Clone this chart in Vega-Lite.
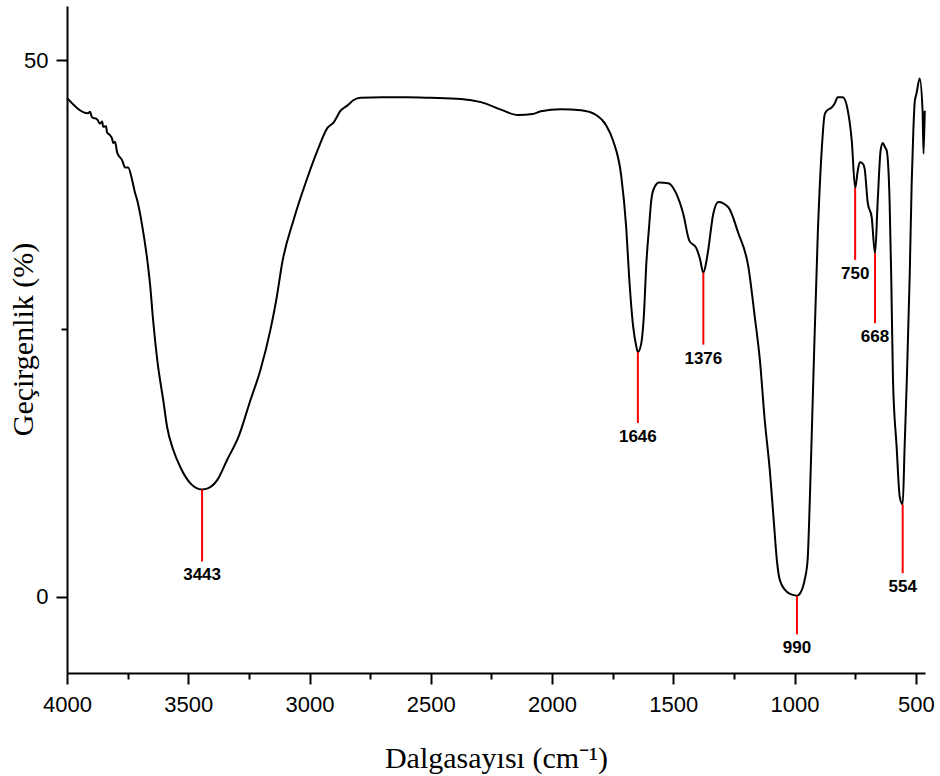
{
  "$schema": "https://vega.github.io/schema/vega-lite/v6.json",
  "autosize": {"type": "none"},
  "padding": {"left": 67, "top": 6, "right": 15, "bottom": 103},
  "width": 858,
  "height": 667,
  "background": "white",
  "config": {"view": {"stroke": null}},
  "datasets": {
    "spectrum": [
      {"wavenumber": 4000, "transmittance": 46.5},
      {"wavenumber": 3913, "transmittance": 45.07},
      {"wavenumber": 3905, "transmittance": 45.2},
      {"wavenumber": 3897, "transmittance": 44.7},
      {"wavenumber": 3876, "transmittance": 44.5},
      {"wavenumber": 3864, "transmittance": 44.1},
      {"wavenumber": 3855, "transmittance": 44.3},
      {"wavenumber": 3851, "transmittance": 43.8},
      {"wavenumber": 3839, "transmittance": 43.85},
      {"wavenumber": 3835, "transmittance": 43.3},
      {"wavenumber": 3822, "transmittance": 43.0},
      {"wavenumber": 3814, "transmittance": 42.7},
      {"wavenumber": 3810, "transmittance": 42.3},
      {"wavenumber": 3802, "transmittance": 42.4},
      {"wavenumber": 3793, "transmittance": 41.4},
      {"wavenumber": 3773, "transmittance": 40.7},
      {"wavenumber": 3760, "transmittance": 40.0},
      {"wavenumber": 3748, "transmittance": 40.0},
      {"wavenumber": 3731, "transmittance": 38.8},
      {"wavenumber": 3719, "transmittance": 37.6},
      {"wavenumber": 3711, "transmittance": 37.0},
      {"wavenumber": 3690, "transmittance": 34.6},
      {"wavenumber": 3669, "transmittance": 31.4},
      {"wavenumber": 3657, "transmittance": 29.0},
      {"wavenumber": 3645, "transmittance": 25.8},
      {"wavenumber": 3628, "transmittance": 22.1},
      {"wavenumber": 3603, "transmittance": 18.3},
      {"wavenumber": 3587, "transmittance": 15.8},
      {"wavenumber": 3562, "transmittance": 13.7},
      {"wavenumber": 3533, "transmittance": 12.1},
      {"wavenumber": 3492, "transmittance": 10.6},
      {"wavenumber": 3443, "transmittance": 10.0},
      {"wavenumber": 3420, "transmittance": 10.1},
      {"wavenumber": 3380, "transmittance": 10.9},
      {"wavenumber": 3339, "transmittance": 12.8},
      {"wavenumber": 3293, "transmittance": 14.9},
      {"wavenumber": 3244, "transmittance": 18.3},
      {"wavenumber": 3203, "transmittance": 21.1},
      {"wavenumber": 3161, "transmittance": 24.9},
      {"wavenumber": 3136, "transmittance": 27.8},
      {"wavenumber": 3112, "transmittance": 31.2},
      {"wavenumber": 3066, "transmittance": 35.1},
      {"wavenumber": 3008, "transmittance": 39.1},
      {"wavenumber": 2967, "transmittance": 41.6},
      {"wavenumber": 2926, "transmittance": 43.7},
      {"wavenumber": 2901, "transmittance": 44.2},
      {"wavenumber": 2872, "transmittance": 45.3},
      {"wavenumber": 2843, "transmittance": 45.8},
      {"wavenumber": 2818, "transmittance": 46.3},
      {"wavenumber": 2789, "transmittance": 46.5},
      {"wavenumber": 2700, "transmittance": 46.55},
      {"wavenumber": 2600, "transmittance": 46.55},
      {"wavenumber": 2500, "transmittance": 46.5},
      {"wavenumber": 2376, "transmittance": 46.4},
      {"wavenumber": 2293, "transmittance": 46.1},
      {"wavenumber": 2211, "transmittance": 45.4},
      {"wavenumber": 2141, "transmittance": 44.9},
      {"wavenumber": 2080, "transmittance": 45.0},
      {"wavenumber": 2046, "transmittance": 45.25},
      {"wavenumber": 1963, "transmittance": 45.44},
      {"wavenumber": 1880, "transmittance": 45.34},
      {"wavenumber": 1818, "transmittance": 44.9},
      {"wavenumber": 1777, "transmittance": 43.95},
      {"wavenumber": 1748, "transmittance": 42.5},
      {"wavenumber": 1715, "transmittance": 39.3},
      {"wavenumber": 1694, "transmittance": 34.4},
      {"wavenumber": 1682, "transmittance": 29.8},
      {"wavenumber": 1665, "transmittance": 25.1},
      {"wavenumber": 1653, "transmittance": 23.4},
      {"wavenumber": 1646, "transmittance": 22.8},
      {"wavenumber": 1633, "transmittance": 23.5},
      {"wavenumber": 1620, "transmittance": 26.7},
      {"wavenumber": 1612, "transmittance": 30.7},
      {"wavenumber": 1600, "transmittance": 34.4},
      {"wavenumber": 1591, "transmittance": 36.9},
      {"wavenumber": 1579, "transmittance": 38.1},
      {"wavenumber": 1558, "transmittance": 38.6},
      {"wavenumber": 1521, "transmittance": 38.55},
      {"wavenumber": 1488, "transmittance": 37.6},
      {"wavenumber": 1459, "transmittance": 35.7},
      {"wavenumber": 1434, "transmittance": 33.2},
      {"wavenumber": 1405, "transmittance": 32.5},
      {"wavenumber": 1390, "transmittance": 31.5},
      {"wavenumber": 1376, "transmittance": 30.2},
      {"wavenumber": 1364, "transmittance": 31.2},
      {"wavenumber": 1356, "transmittance": 32.3},
      {"wavenumber": 1335, "transmittance": 35.7},
      {"wavenumber": 1314, "transmittance": 36.8},
      {"wavenumber": 1273, "transmittance": 36.3},
      {"wavenumber": 1232, "transmittance": 33.9},
      {"wavenumber": 1190, "transmittance": 30.7},
      {"wavenumber": 1164, "transmittance": 26.1},
      {"wavenumber": 1143, "transmittance": 22.1},
      {"wavenumber": 1123, "transmittance": 16.5},
      {"wavenumber": 1102, "transmittance": 11.8},
      {"wavenumber": 1086, "transmittance": 7.2},
      {"wavenumber": 1073, "transmittance": 3.45},
      {"wavenumber": 1061, "transmittance": 1.6},
      {"wavenumber": 1032, "transmittance": 0.47},
      {"wavenumber": 1010, "transmittance": 0.2},
      {"wavenumber": 990, "transmittance": 0.1},
      {"wavenumber": 975, "transmittance": 0.4},
      {"wavenumber": 958, "transmittance": 1.6},
      {"wavenumber": 946, "transmittance": 3.45},
      {"wavenumber": 937, "transmittance": 9.0},
      {"wavenumber": 925, "transmittance": 18.3},
      {"wavenumber": 904, "transmittance": 33.9},
      {"wavenumber": 888, "transmittance": 41.6},
      {"wavenumber": 876, "transmittance": 44.9},
      {"wavenumber": 867, "transmittance": 45.3},
      {"wavenumber": 847, "transmittance": 45.6},
      {"wavenumber": 834, "transmittance": 46.0},
      {"wavenumber": 822, "transmittance": 46.55},
      {"wavenumber": 801, "transmittance": 46.55},
      {"wavenumber": 781, "transmittance": 45.4},
      {"wavenumber": 768, "transmittance": 43.4},
      {"wavenumber": 764, "transmittance": 42.5},
      {"wavenumber": 750, "transmittance": 38.1},
      {"wavenumber": 740, "transmittance": 39.6},
      {"wavenumber": 731, "transmittance": 40.5},
      {"wavenumber": 720, "transmittance": 40.4},
      {"wavenumber": 711, "transmittance": 39.9},
      {"wavenumber": 698, "transmittance": 36.7},
      {"wavenumber": 682, "transmittance": 35.4},
      {"wavenumber": 668, "transmittance": 32.0},
      {"wavenumber": 657, "transmittance": 36.9},
      {"wavenumber": 645, "transmittance": 41.6},
      {"wavenumber": 636, "transmittance": 42.3},
      {"wavenumber": 627, "transmittance": 41.9},
      {"wavenumber": 620, "transmittance": 41.6},
      {"wavenumber": 608, "transmittance": 36.9},
      {"wavenumber": 601, "transmittance": 29.5},
      {"wavenumber": 594, "transmittance": 20.2},
      {"wavenumber": 579, "transmittance": 14.0},
      {"wavenumber": 566, "transmittance": 9.3},
      {"wavenumber": 554, "transmittance": 8.6},
      {"wavenumber": 546, "transmittance": 14.0},
      {"wavenumber": 537, "transmittance": 20.2},
      {"wavenumber": 525, "transmittance": 30.0},
      {"wavenumber": 517, "transmittance": 38.5},
      {"wavenumber": 510, "transmittance": 43.5},
      {"wavenumber": 504, "transmittance": 46.2},
      {"wavenumber": 497, "transmittance": 46.9},
      {"wavenumber": 484, "transmittance": 48.3},
      {"wavenumber": 472, "transmittance": 45.3},
      {"wavenumber": 468, "transmittance": 41.3},
      {"wavenumber": 463, "transmittance": 45.3}
    ],
    "peaks": [
      {"wavenumber": 3443, "peak": 10.0, "end": 3.3, "label": "3443"},
      {"wavenumber": 1646, "peak": 22.8, "end": 16.2, "label": "1646"},
      {"wavenumber": 1376, "peak": 30.2, "end": 23.5, "label": "1376"},
      {"wavenumber": 990, "peak": 0.1, "end": -3.5, "label": "990"},
      {"wavenumber": 750, "peak": 38.1, "end": 31.4, "label": "750"},
      {"wavenumber": 668, "peak": 32.0, "end": 25.5, "label": "668"},
      {"wavenumber": 554, "peak": 8.6, "end": 2.2, "label": "554"}
    ]
  },
  "layer": [
    {
      "data": {"name": "spectrum"},
      "mark": {"type": "line", "color": "black", "strokeWidth": 2, "interpolate": "monotone"},
      "encoding": {
        "x": {
          "field": "wavenumber",
          "type": "quantitative",
          "scale": {"domain": [462, 4000], "reverse": true, "nice": false, "zero": false},
          "axis": {
            "title": "Dalgasayısı (cm⁻¹)",
            "values": [4000, 3750, 3500, 3250, 3000, 2750, 2500, 2250, 2000, 1750, 1500, 1250, 1000, 750, 500],
            "labelExpr": "datum.value % 500 == 0 ? format(datum.value, 'd') : ''",
            "labelOverlap": false,
            "labelFlush": false,
            "labelBound": false,
            "grid": false,
            "domainColor": "black",
            "domainWidth": 2,
            "tickColor": "black",
            "tickWidth": 2,
            "tickSize": {"condition": {"test": "datum.value % 500 == 0", "value": 11}, "value": 6},
            "labelPadding": 10,
            "labelFont": "Liberation Sans",
            "labelFontSize": 22,
            "labelColor": "black",
            "titleFont": "Liberation Serif",
            "titleFontSize": 30,
            "titleFontWeight": "normal",
            "titleColor": "black",
            "titleBaseline": "alphabetic",
            "titleY": 94
          }
        },
        "y": {
          "field": "transmittance",
          "type": "quantitative",
          "scale": {"domain": [-7.1, 55.06], "nice": false, "zero": false},
          "axis": {
            "title": "Geçirgenlik (%)",
            "values": [0, 25, 50],
            "labelExpr": "datum.value == 25 ? '' : datum.label",
            "labelOverlap": false,
            "grid": false,
            "domainColor": "black",
            "domainWidth": 2,
            "tickColor": "black",
            "tickWidth": 2,
            "tickSize": {"condition": {"test": "datum.value == 25", "value": 6}, "value": 11},
            "labelPadding": 8,
            "labelFont": "Liberation Sans",
            "labelFontSize": 22,
            "labelColor": "black",
            "titleFont": "Liberation Serif",
            "titleFontSize": 30,
            "titleFontWeight": "normal",
            "titleColor": "black",
            "titleBaseline": "alphabetic",
            "titleAngle": -90,
            "titleAlign": "center",
            "titleX": -35,
            "titleY": 333
          }
        }
      }
    },
    {
      "data": {"name": "peaks"},
      "mark": {"type": "rule", "color": "#ff0000", "strokeWidth": 2},
      "encoding": {
        "x": {"field": "wavenumber", "type": "quantitative"},
        "y": {"field": "peak", "type": "quantitative"},
        "y2": {"field": "end"}
      }
    },
    {
      "data": {"name": "peaks"},
      "mark": {"type": "text", "font": "Liberation Sans", "fontWeight": "bold", "fontSize": 17, "baseline": "top", "align": "center", "dy": 6, "color": "black"},
      "encoding": {
        "x": {"field": "wavenumber", "type": "quantitative"},
        "y": {"field": "end", "type": "quantitative"},
        "text": {"field": "label"}
      }
    }
  ]
}
